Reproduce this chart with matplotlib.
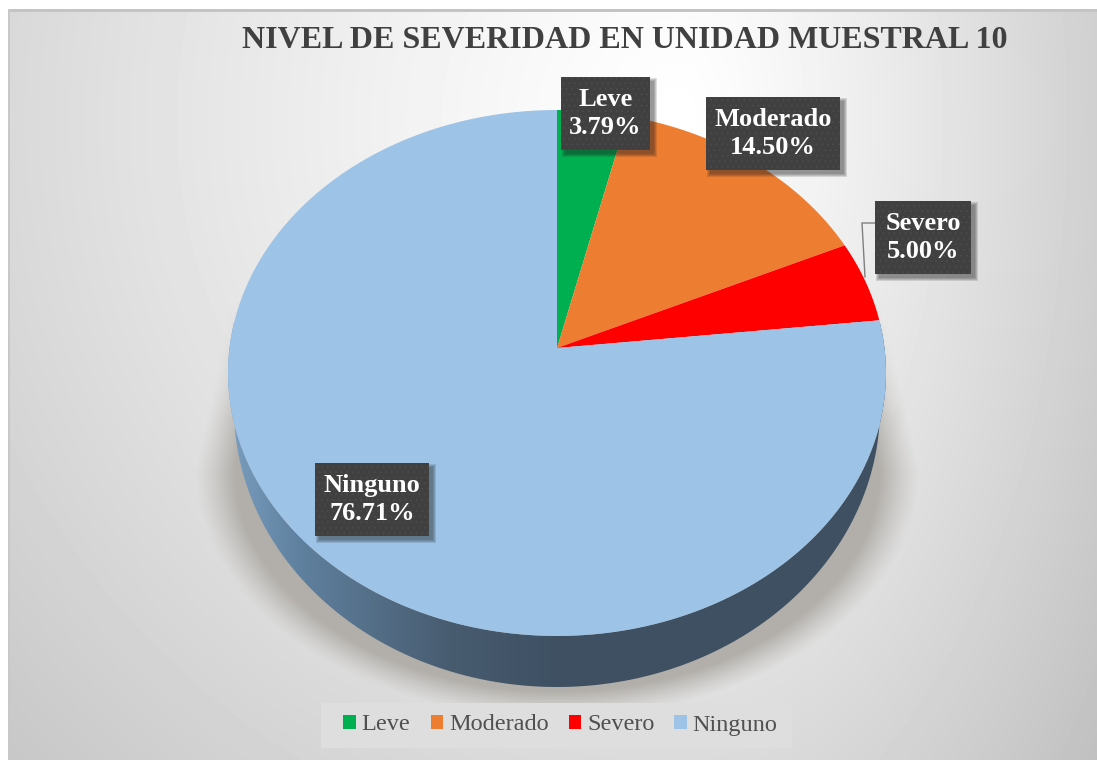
import numpy as np
import matplotlib
matplotlib.use("Agg")
from matplotlib import pyplot as plt
from matplotlib.patches import Polygon, Rectangle

title = "NIVEL DE SEVERIDAD EN UNIDAD MUESTRAL 10"
categories = ["Leve", "Moderado", "Severo", "Ninguno"]
values = [3.79, 14.50, 5.00, 76.71]
colors = ["#00b050", "#ed7d31", "#ff0000", "#9dc3e6"]

W, H = 1097, 760
# pie in picture pixels, k gives the perspective of the tilted disc
CX, CY = 557, 348
RX, RY, K = 327.5, 260.6, 0.095

plt.rcParams["font.family"] = ["Liberation Serif", "DejaVu Serif"]
plt.rcParams["hatch.linewidth"] = 0.4


def rim(t0, t1, n=200):
    t = np.radians(np.linspace(t0, t1, n))
    d = 1 + K * np.cos(t)
    return CX + RX * np.sin(t) / d, CY - RY * np.cos(t) / d


fig = plt.figure(figsize=(W / 100, H / 100), dpi=100, facecolor="white")
ax = fig.add_axes([0, 0, 1, 1])
ax.set_xlim(0, W)
ax.set_ylim(H, 0)
ax.axis("off")

# background, radial grey, falls off faster to the right
yy, xx = np.mgrid[0:H, 0:W]
dx = xx - 680.0
d = np.hypot(dx / np.where(dx > 0, 520, 1000), (yy - 120) / 1000)
bg = 1.0 - 0.24 * d ** 1.2
im = ax.imshow(bg, cmap="gray", vmin=0, vmax=1, extent=(0, W, H, 0), aspect="auto", zorder=0)
im.set_clip_path(Rectangle((8, 9), W - 8, H - 9, transform=ax.transData))
ax.add_patch(Rectangle((8, 9), W - 8, 3, fc="#c4c4c4", ec="none", zorder=0.5))
ax.add_patch(Rectangle((8, 9), 2, H - 9, fc="#c8c8c8", ec="none", zorder=0.5))

# soft shadow under the disc: ellipse below y=470, narrowing streaks above it
half = np.interp(yy, [330, 470], [332, 362])
r = np.where(yy >= 470, np.hypot((xx - 557) / 362, (yy - 470) / 248), np.abs(xx - 557) / half)
a = np.clip((1.0 - r) / 0.11, 0, 1) ** 1.2
a *= np.clip((yy - 300) / 120, 0, 1)
rgba = np.zeros((H, W, 4))
rgba[..., :3] = [0.70, 0.69, 0.67]
rgba[..., 3] = a
ax.imshow(rgba, extent=(0, W, H, 0), aspect="auto", zorder=1)

# side wall
t = np.radians(np.linspace(90, 270, 300))
low_x = 557 + 323 * np.sin(t)
low_y = 408 - 279 * np.cos(t)
top_x, top_y = rim(84, 276, 300)
wall = Polygon(np.r_[np.c_[low_x, low_y], np.c_[top_x[::-1], top_y[::-1]]], closed=True,
               fc="none", ec="none", zorder=2)
ax.add_patch(wall)
wall_x = np.array([228, 300, 450, 560, 886])
wall_c = np.array([[122, 158, 192], [95, 128, 158], [72, 92, 112], [62, 80, 98], [62, 80, 98]]) / 255
grad = np.stack([np.interp(xx[0], wall_x, wall_c[:, i]) for i in range(3)], axis=-1)[None, :, :]
gi = ax.imshow(grad, extent=(0, W, H, 0), aspect="auto", zorder=2)
gi.set_clip_path(wall)

# top of the disc, one wedge per value
wedges = []
start = 0
for name, v, c in zip(categories, values, colors):
    end = start + v / sum(values) * 360
    x, y = rim(start, end)
    w = Polygon(np.r_[[[CX, CY]], np.c_[x, y]], closed=True, fc=c, ec="none", zorder=3, label=name)
    ax.add_patch(w)
    wedges.append(w)
    start = end

# data labels
label_boxes = [(561, 77, 89, 73), (706, 97, 134, 73), (875, 201, 96, 73), (315, 463, 114, 73)]
for (bx, by, bw, bh), name, v in zip(label_boxes, categories, values):
    # blurred shadow from a few growing rectangles, down and to the right
    for g in range(3, -1, -1):
        ax.add_patch(Rectangle((bx + 4 - g, by + 4 - g), bw + 2 * g, bh + 2 * g, fc="#202020", ec="none",
                               alpha=0.14, zorder=4.5))
    ax.add_patch(Rectangle((bx, by), bw, bh, fc="#404040", ec="none", zorder=5))
    ax.add_patch(Rectangle((bx, by), bw, bh, fc="none", ec="#4e4e4e", lw=0, hatch="...", zorder=5.1))
    ax.text(bx + bw / 2, by + bh / 2, f"{name}\n{v:.2f}%", color="white", fontsize=19, fontweight="bold",
            ha="center", va="center", linespacing=1.3, zorder=6)

# leader line of Severo
ax.plot([875, 862, 865], [223, 223, 277], color="#7f7f7f", lw=1, zorder=4)

ax.text(624.5, 41, title, color="#404040", fontsize=23, fontweight="bold", ha="center", va="center", zorder=6)

ax.add_patch(Rectangle((321, 703), 471, 45, fc="#dedede", ec="none", zorder=5))
leg = ax.legend(handles=wedges, ncol=4, loc="center", bbox_to_anchor=(560.5 / W, 1 - 725 / H),
                frameon=False, fontsize=17.5, labelcolor="#505050", handlelength=0.5, handleheight=0.5,
                handletextpad=0.25, columnspacing=0.83, borderpad=0)
leg.set_zorder(6)

fig.savefig("out.png", dpi=100)
